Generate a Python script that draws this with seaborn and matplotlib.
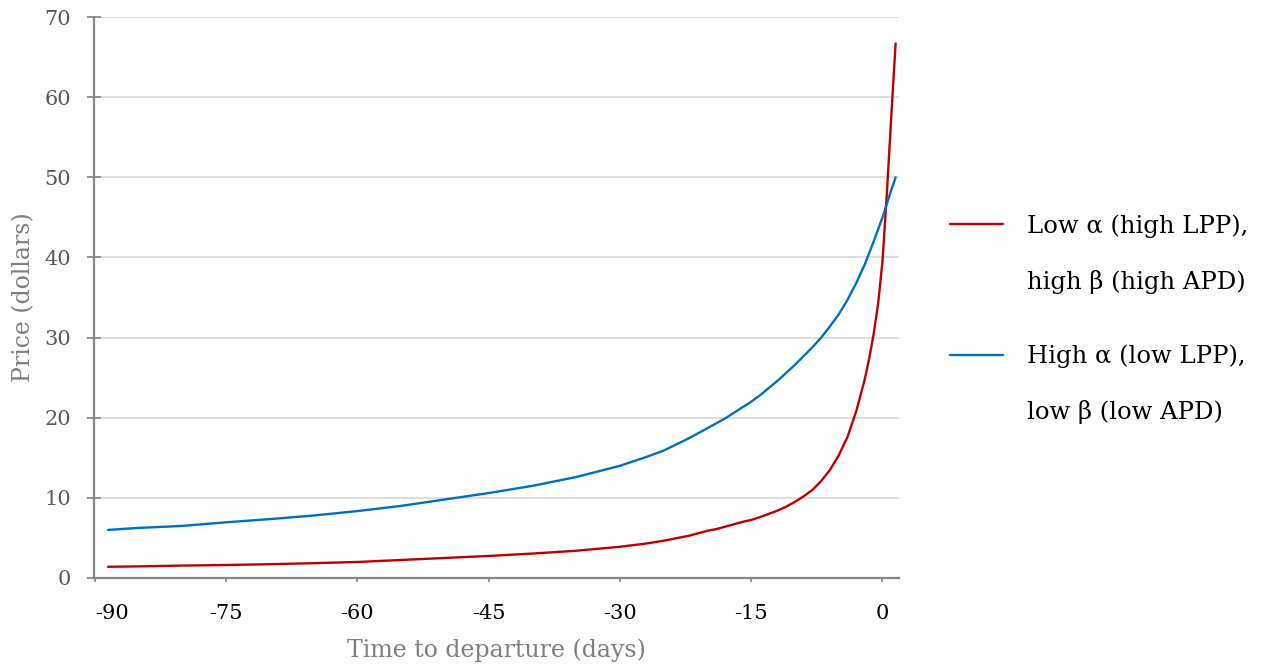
import matplotlib
matplotlib.use("Agg")
import matplotlib.pyplot as plt
import pandas as pd
import seaborn as sns

# Price paths by days to departure
low_alpha_days = [-88.5, -85, -80, -75, -70, -65, -60, -55, -50, -45, -40, -35, -30, -27,
                  -25, -22, -20, -19, -18, -17, -16, -15, -14, -13, -12, -11, -10, -9,
                  -8, -7, -6, -5, -4, -3, -2, -1.5, -1, -0.5, 0, 0.5, 1, 1.5]
low_alpha_price = [1.4, 1.45, 1.55, 1.62, 1.72, 1.85, 2.0, 2.25, 2.5, 2.75, 3.05, 3.4,
                   3.9, 4.3, 4.65, 5.3, 5.9, 6.1, 6.4, 6.7, 7.0, 7.25, 7.6, 8.0, 8.4,
                   8.9, 9.5, 10.2, 11.0, 12.1, 13.5, 15.3, 17.6, 20.8, 24.9, 27.5, 30.5,
                   34.2, 39.5, 48.0, 57.5, 66.7]

high_alpha_days = [-88.5, -85, -80, -75, -70, -65, -60, -55, -50, -45, -40, -35, -30,
                   -27, -25, -22, -20, -19, -18, -17, -16, -15, -14, -13, -12, -11, -10,
                   -9, -8, -7, -6, -5, -4, -3, -2, -1, 0, 0.5, 1, 1.5]
high_alpha_price = [6.0, 6.25, 6.5, 6.95, 7.35, 7.8, 8.35, 9.0, 9.8, 10.6, 11.5, 12.6,
                    14.0, 15.1, 15.9, 17.5, 18.7, 19.3, 19.9, 20.6, 21.3, 22.0, 22.8, 23.7,
                    24.6, 25.6, 26.6, 27.7, 28.8, 30.0, 31.4, 32.9, 34.7, 36.8, 39.2, 42.0,
                    45.0, 46.7, 48.4, 50.0]

series_names = ["Low α (high LPP),", "High α (low LPP),"]
second_lines = ["high β (high APD)", "low β (low APD)"]
colors = ["#C00000", "#0070C0"]

x_ticks = [-90, -75, -60, -45, -30, -15, 0]
y_ticks = [0, 10, 20, 30, 40, 50, 60, 70]

df = pd.concat([
    pd.DataFrame({"days": low_alpha_days, "price": low_alpha_price, "series": series_names[0]}),
    pd.DataFrame({"days": high_alpha_days, "price": high_alpha_price, "series": series_names[1]}),
], ignore_index=True)

sns.set_style("white")
plt.rcParams["font.family"] = ["DejaVu Serif"]

fig = plt.figure(figsize=(12.62, 6.71), dpi=100)
ax = fig.add_axes([0.0745, 0.1386, 0.6376, 0.836])

sns.lineplot(data=df, x="days", y="price", hue="series", hue_order=series_names,
             palette=colors, estimator=None, sort=False, linewidth=1.7, ax=ax)

ax.set_xlim(-90.1, 1.85)
ax.set_ylim(0, 70)
ax.set_xticks(x_ticks)
ax.set_xticklabels([str(t) for t in x_ticks])
ax.set_yticks(y_ticks)
# keep the first day label inside the plot area
ax.get_xticklabels()[0].set_horizontalalignment("left")

ax.grid(axis="y", color="#d9d9d9", linewidth=1.2)
ax.grid(axis="x", visible=False)
ax.set_axisbelow(True)

for side in ["top", "right"]:
    ax.spines[side].set_visible(False)
for side in ["left", "bottom"]:
    ax.spines[side].set_color("#858585")
    ax.spines[side].set_linewidth(1.6)

ax.tick_params(axis="y", direction="inout", length=9.5, width=1.2, color="#858585",
               labelsize=15, labelcolor="#595959", pad=12, left=True)
ax.tick_params(axis="x", direction="out", length=3, width=1.2, color="#858585",
               labelsize=15, labelcolor="#000000", pad=16, bottom=True)

ax.set_xlabel("Time to departure (days)", fontsize=17, color="#7f7f7f", labelpad=11)
ax.set_ylabel("Price (dollars)", fontsize=17, color="#7f7f7f", labelpad=6)

handles, labels = ax.get_legend_handles_labels()
leg = ax.legend(handles, labels, loc="upper left", bbox_to_anchor=(0.7528, 0.681),
                bbox_transform=fig.transFigure, frameon=False, fontsize=17.5,
                handlelength=2.18, handletextpad=0.99, labelspacing=4.41,
                borderpad=0, borderaxespad=0, labelcolor="#000000")
for line in leg.get_lines():
    line.set_linewidth(1.7)

# second line of each legend entry
fig.text(1027 / 1262, 1 - 282 / 671, second_lines[0], fontsize=17.5, color="#000000",
         va="center", ha="left")
fig.text(1027 / 1262, 1 - 412 / 671, second_lines[1], fontsize=17.5, color="#000000",
         va="center", ha="left")

fig.savefig("out.png", dpi=100)
